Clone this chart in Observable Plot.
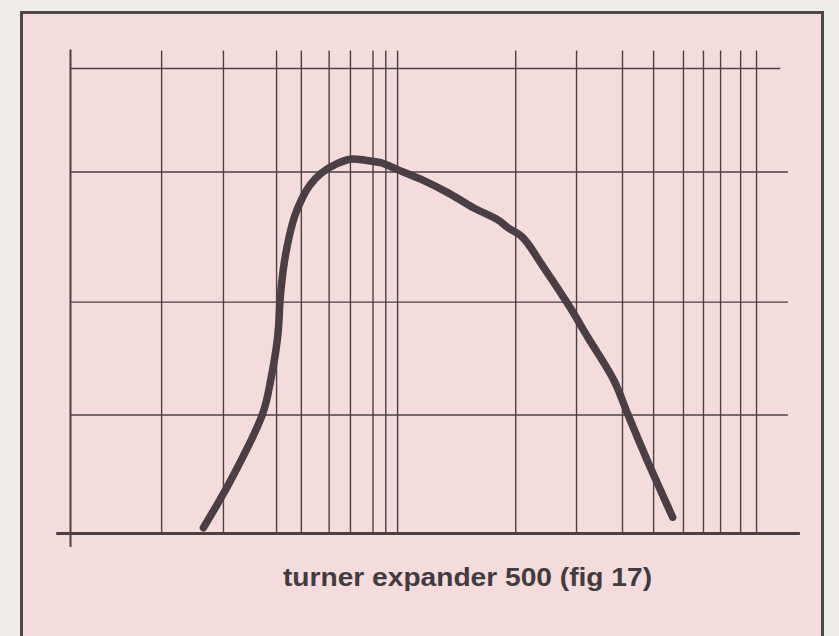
<!DOCTYPE html>
<html><head><meta charset="utf-8">
<script src="https://cdn.jsdelivr.net/npm/d3@7"></script>
<script src="https://cdn.jsdelivr.net/npm/@observablehq/plot@0.6"></script>
<style>
html,body{margin:0;padding:0;background:#efebe6;width:839px;height:636px;overflow:hidden;}
#sheet{position:absolute;left:20px;top:11px;width:798px;height:700px;background:#f4dcdc;border:3px solid #4f474b;border-bottom:none;}
#chart{position:absolute;left:0;top:0;}
</style></head><body>
<div id="sheet"></div>
<div id="chart"></div>
<script>
// Vertical grid lines (log frequency axis)
const freqGrid = [2.0, 3.0, 4.25, 5.0, 6.0, 6.9, 8.0, 8.7, 9.4, 20.4, 30.4, 41.1, 50.4, 61.3, 69.9, 78.2, 89.2, 99.0];
// Horizontal grid lines (level)
const levelGrid = [10.2, 19.9, 31.1, 40];
// Response curve
const curveFreq  = [2.63, 3.15, 3.88, 4.09, 4.28, 4.36, 4.47, 4.63, 4.80, 5.02, 5.30, 5.70, 6.30, 6.91, 7.62, 8.41, 9.40, 10.9, 13.1, 15.5, 18.1, 19.4, 21.3, 24.5, 29.2, 32.7, 38.8, 42.5, 48.8, 57.1];
const curveLevel = [0.5, 4.6, 10.3, 13.2, 16.9, 20.5, 23.3, 25.7, 27.4, 28.8, 30.0, 31.0, 31.8, 32.2, 32.1, 31.9, 31.3, 30.5, 29.3, 28.0, 27.0, 26.3, 25.5, 22.9, 19.4, 16.9, 13.2, 10.3, 6.0, 1.4];
const caption = "turner expander 500 (fig 17)";

const curve = curveFreq.map((f, i) => ({f, l: curveLevel[i]}));
const xDomain = [1.1, 123.7];
const ink = "#4b4045";

const plot = Plot.plot({
  width: 839, height: 636,
  marginLeft: 70, marginRight: 49, marginTop: 68, marginBottom: 103,
  x: {type: "log", domain: xDomain, axis: null},
  y: {domain: [0, 40], axis: null},
  style: {background: "transparent", overflow: "visible"},
  marks: [
    Plot.ruleX(freqGrid, {y1: 0, y2: 41.5, stroke: ink, strokeWidth: 1.4}),
    Plot.ruleX([xDomain[0]], {y1: -1.2, y2: 41.6, stroke: ink, strokeWidth: 2}),
    Plot.ruleY(levelGrid, {x1: xDomain[0], x2: d => d === 40 ? 116 : 122, stroke: ink, strokeWidth: 1.4}),
    Plot.ruleY([0], {x1: 1.005, x2: 132, stroke: ink, strokeWidth: 3}),
    Plot.line(curve, {x: "f", y: "l", stroke: "#4a3f45", strokeWidth: 7.5, curve: "catmull-rom", strokeLinejoin: "round", strokeLinecap: "round"}),
    Plot.text([caption], {text: d => d, frameAnchor: "bottom", dx: 37, dy: 52, fontSize: 26, fontWeight: "bold", fontFamily: "Liberation Sans, Arial, sans-serif", fill: "#423b3f"})
  ]
});
d3.select(plot).selectAll("g[aria-label=text] text").attr("textLength", 369).attr("lengthAdjust", "spacingAndGlyphs");
document.getElementById("chart").appendChild(plot);
</script>
</body></html>
